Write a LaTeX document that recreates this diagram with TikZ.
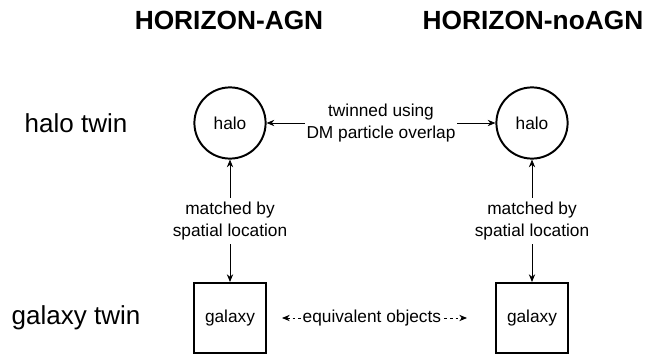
\documentclass[tikz,border=0pt]{standalone}
\usepackage{fontspec}
\setmainfont{Liberation Sans}
\usetikzlibrary{arrows.meta, positioning}
\tikzset{
    halonode/.style={
        circle,
        draw=black,
        line width=1.4pt,
        minimum size=1.78cm,
        inner sep=0pt,
        font=\fontsize{12.3}{15}\selectfont
    },
    galaxynode/.style={
        rectangle,
        draw=black,
        line width=1.4pt,
        minimum width=1.8cm,
        minimum height=1.75cm,
        inner sep=0pt,
        font=\fontsize{12.3}{15}\selectfont
    },
    simtitle/.style={
        font=\fontsize{18.7}{22}\selectfont\bfseries
    },
    rowlabel/.style={
        font=\fontsize{18.5}{22}\selectfont
    },
    arrow/.style={
        <->,
        >={Stealth[length=5.5pt,width=4.5pt]},
        line width=0.6pt
    },
    dasharrow/.style={
        arrow,
        dash pattern=on 2pt off 2pt
    },
    linklabel/.style={
        fill=white,
        align=center,
        inner xsep=1pt,
        inner ysep=3pt,
        font=\fontsize{12.3}{15.5}\selectfont
    }
}

\begin{document}
\begin{tikzpicture}[x=0.025cm, y=-0.025cm]

    \useasboundingbox (0,0) rectangle (658,355);

    % Column titles
    \node[simtitle] (agn) at (229,20) {HORIZON-AGN};
    \node[simtitle] (noagn) at (533,20) {HORIZON-noAGN};

    % Row labels
    \node[rowlabel] (halorow) at (76,123) {halo twin};
    \node[rowlabel] (galrow) at (76,318) {galaxy twin};

    % Halos
    \node[halonode] (halo1) at (230,123) {halo};
    \node[halonode] (halo2) at (532,123) {halo};

    % Galaxies
    \node[galaxynode] (gal1) at (230,318) {galaxy};
    \node[galaxynode] (gal2) at (532,318) {galaxy};

    % Links
    \draw[arrow] (halo1) -- node[linklabel] {twinned using\\DM particle overlap} (halo2);
    \draw[arrow] (halo1) -- node[linklabel] {matched by\\spatial location} (gal1);
    \draw[arrow] (halo2) -- node[linklabel] {matched by\\spatial location} (gal2);
    \draw[dasharrow, shorten <=0.375cm, shorten >=0.7cm] (gal1) -- node[linklabel, pos=0.46] {equivalent objects} (gal2);

\end{tikzpicture}
\end{document}
